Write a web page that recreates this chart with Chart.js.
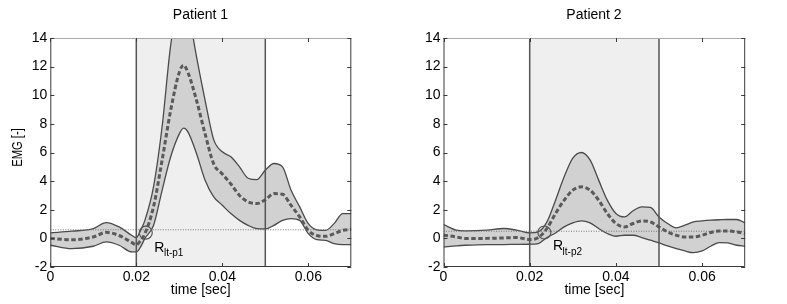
<!DOCTYPE html>
<html>
<head>
<meta charset="utf-8">
<script src="https://cdn.jsdelivr.net/npm/chart.js@4.4.1/dist/chart.umd.min.js"></script>
<style>
html,body{margin:0;padding:0;background:#fff;overflow:hidden;width:787px;height:304px;}
#w1{position:absolute;left:0;top:0;width:401px;height:304px;}
#w2{position:absolute;left:401px;top:0;width:386px;height:304px;}
</style>
</head>
<body>
<div id="w1"><canvas id="c1" width="401" height="304"></canvas></div>
<div id="w2"><canvas id="c2" width="386" height="304"></canvas></div>
<script>
// ---------- data ----------
const titles = ['Patient 1', 'Patient 2'];
const xTickValues = [0, 0.02, 0.04, 0.06];
const xTickLabels = ['0', '0.02', '0.04', '0.06'];
const yTickValues = [-2, 0, 2, 4, 6, 8, 10, 12, 14];
const yTickLabels = ['-2', '0', '2', '4', '6', '8', '10', '12', '14'];
const windowStart = 0.02;
const windowEnd = 0.05;

const timeP1  = [0, 0.005, 0.01, 0.013, 0.016, 0.019, 0.02, 0.021, 0.022, 0.024, 0.026, 0.028, 0.03, 0.031, 0.032, 0.034, 0.036, 0.038, 0.04, 0.042, 0.044, 0.046, 0.048, 0.05, 0.052, 0.054, 0.056, 0.058, 0.06, 0.062, 0.064, 0.066, 0.068, 0.07];
const upperP1 = [0.38, 0.5, 0.68, 1.1, 0.8, 0.2, 0.05, 0.56, 1.26, 3.6, 7.8, 13.5, 16.6, 17.0, 16.0, 12.7, 9.65, 6.9, 6.05, 5.7, 5.0, 4.2, 4.1, 4.76, 5.23, 5.0, 3.36, 2.2, 1.03, 0.6, 0.56, 1.03, 1.73, 1.73];
const meanP1  = [0, -0.1, 0.1, 0.42, 0.2, -0.3, -0.45, -0.15, 0.33, 2.2, 5.46, 8.96, 11.6, 12.1, 11.6, 9.65, 7.3, 5.2, 4.5, 3.8, 3.0, 2.55, 2.43, 2.7, 3.13, 3.08, 2.3, 1.5, 0.56, 0.2, 0.14, 0.33, 0.56, 0.63];
const lowerP1 = [-0.48, -0.72, -0.55, -0.25, -0.48, -0.95, -0.95, -0.6, 0, 0.9, 3.36, 5.7, 7.3, 7.7, 7.44, 5.93, 4.06, 2.9, 2.31, 1.73, 1.26, 0.91, 0.68, 0.66, 0.91, 1.26, 1.38, 1.26, 0.33, -0.09, -0.14, -0.37, -0.44, -0.44];
const thresholdP1 = 0.6;
const onsetP1 = {x: 0.0222, y: 0.4};

const timeP2  = [0, 0.003, 0.005, 0.01, 0.014, 0.017, 0.02, 0.022, 0.024, 0.026, 0.028, 0.03, 0.032, 0.034, 0.036, 0.038, 0.04, 0.042, 0.044, 0.046, 0.048, 0.05, 0.052, 0.054, 0.056, 0.058, 0.06, 0.062, 0.064, 0.066, 0.068, 0.07];
const upperP2 = [0.97, 0.57, 0.52, 0.57, 0.69, 0.57, 0.38, 0.45, 1.15, 2.67, 4.3, 5.6, 6.0, 5.48, 4.07, 2.67, 1.74, 1.5, 1.93, 2.2, 2.16, 1.5, 1.04, 0.73, 0.92, 1.15, 1.22, 1.27, 1.3, 1.32, 1.32, 1.08];
const meanP2  = [0.22, 0.1, -0.01, 0, 0.03, 0.06, -0.08, 0.06, 0.69, 1.74, 2.67, 3.37, 3.6, 3.37, 2.67, 1.74, 1.04, 0.8, 1.04, 1.22, 1.15, 0.8, 0.45, 0.22, 0.1, 0.1, 0.22, 0.41, 0.52, 0.52, 0.45, 0.34];
const lowerP2 = [-0.6, -0.52, -0.48, -0.43, -0.43, -0.42, -0.41, -0.36, 0.06, 0.38, 0.8, 1.08, 1.22, 1.08, 0.69, 0.34, 0.15, 0.22, 0.22, 0.06, -0.13, -0.32, -0.53, -0.71, -0.88, -1.0, -0.88, -0.55, -0.29, -0.32, -0.48, -0.55];
const thresholdP2 = 0.5;
const onsetP2 = {x: 0.0234, y: 0.41};

const onsetLabels = [{main: 'R', sub: 'lt-p1'}, {main: 'R', sub: 'lt-p2'}];

// ---------- styling / helpers ----------
const FONT = '"Liberation Sans", Arial, Helvetica, sans-serif';
Chart.defaults.font.family = FONT;
Chart.defaults.color = '#000';

const pts = (xs, ys) => xs.map((x, i) => ({x: x, y: ys[i]}));

const framePlugin = {
  id: 'frame',
  afterDatasetsDraw(chart, args, opts) {
    const ctx = chart.ctx;
    const a = chart.chartArea;
    const xs = chart.scales.x, ys = chart.scales.y;
    ctx.save();
    // onset label
    const ax = xs.getPixelForValue(opts.labelAt.x);
    const ay = ys.getPixelForValue(opts.labelAt.y);
    ctx.fillStyle = '#000';
    ctx.textBaseline = 'alphabetic';
    ctx.textAlign = 'left';
    ctx.font = '14px ' + FONT;
    ctx.fillText(opts.label.main, ax, ay);
    const w = ctx.measureText(opts.label.main).width;
    ctx.font = '10px ' + FONT;
    ctx.fillText(opts.label.sub, ax + w - 0.5, ay + 4.5);
    // frame
    ctx.lineWidth = 1;
    ctx.strokeStyle = '#a8a8a8';
    ctx.beginPath();
    ctx.moveTo(a.left, a.top + 0.5); ctx.lineTo(a.right, a.top + 0.5);
    ctx.stroke();
    ctx.strokeStyle = '#3a3a3a';
    ctx.beginPath();
    ctx.moveTo(a.left + 0.5, a.top); ctx.lineTo(a.left + 0.5, a.bottom - 0.5);
    ctx.lineTo(a.right - 0.5, a.bottom - 0.5); ctx.lineTo(a.right - 0.5, a.top);
    ctx.stroke();
    // inward ticks
    const TL = 4;
    ctx.beginPath();
    xs.ticks.forEach(t => {
      const px = Math.round(xs.getPixelForValue(t.value)) + 0.5;
      ctx.moveTo(px, a.bottom); ctx.lineTo(px, a.bottom - TL);
      ctx.moveTo(px, a.top); ctx.lineTo(px, a.top + TL);
    });
    ys.ticks.forEach(t => {
      const py = Math.round(ys.getPixelForValue(t.value)) + 0.5;
      ctx.moveTo(a.left, py); ctx.lineTo(a.left + TL, py);
      ctx.moveTo(a.right, py); ctx.lineTo(a.right - TL, py);
    });
    ctx.stroke();
    // rotated y title (only when requested)
    if (opts.yTitle) {
      ctx.translate(18, (a.top + a.bottom) / 2 - 5);
      ctx.rotate(-Math.PI / 2);
      ctx.scale(0.8, 1);
      ctx.font = '14px ' + FONT;
      ctx.textAlign = 'center';
      ctx.textBaseline = 'middle';
      ctx.fillStyle = '#000';
      ctx.fillText(opts.yTitle, 0, 0);
    }
    ctx.restore();
  }
};

function makeChart(canvasId, cfg) {
  const vline = x => ({
    data: [{x: x, y: -2}, {x: x, y: 14}],
    borderColor: '#555', borderWidth: 1.5, pointRadius: 0, fill: false, order: 1, clip: 0
  });
  return new Chart(document.getElementById(canvasId), {
    type: 'line',
    data: {
      datasets: [
        { // stimulation window shading
          data: [{x: windowStart, y: 14}, {x: windowEnd, y: 14}],
          borderWidth: 0, pointRadius: 0, fill: 'start', backgroundColor: '#efefef', order: 10, clip: 0
        },
        { // upper bound
          data: pts(cfg.time, cfg.upper),
          borderColor: '#4a4a4a', borderWidth: 1.3, pointRadius: 0,
          fill: '+1', backgroundColor: '#d1d1d1',
          cubicInterpolationMode: 'monotone', order: 5, clip: 0
        },
        { // lower bound
          data: pts(cfg.time, cfg.lower),
          borderColor: '#4a4a4a', borderWidth: 1.3, pointRadius: 0, fill: false,
          cubicInterpolationMode: 'monotone', order: 4, clip: 0
        },
        { // mean
          data: pts(cfg.time, cfg.mean),
          borderColor: '#5a5a5a', borderWidth: 3, borderDash: [4.5, 2.5], pointRadius: 0, fill: false,
          cubicInterpolationMode: 'monotone', order: 2, clip: 0
        },
        { // threshold
          data: [{x: 0, y: cfg.threshold}, {x: 0.07, y: cfg.threshold}],
          borderColor: '#777', borderWidth: 1, borderDash: [1, 1.5], pointRadius: 0, fill: false, order: 3, clip: 0
        },
        vline(windowStart),
        vline(windowEnd),
        { // onset circle
          data: [cfg.onset],
          showLine: false, pointRadius: 6.5, pointBackgroundColor: 'rgba(0,0,0,0)',
          pointBorderColor: '#555', pointBorderWidth: 1.2, fill: false, order: 0, clip: false
        }
      ]
    },
    options: {
      responsive: false,
      animation: false,
      events: [],
      layout: {padding: 0},
      plugins: {
        legend: {display: false},
        tooltip: {enabled: false},
        title: {
          display: true, text: cfg.title, color: '#000',
          font: {size: 14, weight: 'normal'}, padding: {top: 7, bottom: 14.2}
        },
        frame: {labelAt: cfg.labelAt, label: cfg.label, yTitle: cfg.yTitle}
      },
      scales: {
        x: {
          type: 'linear', position: 'bottom', min: 0, max: 0.07,
          grid: {display: false, drawTicks: false, tickLength: 0}, border: {display: false},
          afterBuildTicks: s => { s.ticks = xTickValues.map(v => ({value: v})); },
          ticks: {
            autoSkip: false, maxRotation: 0, padding: 2, color: '#000', font: {size: 14},
            callback: v => xTickLabels[xTickValues.indexOf(v)]
          },
          title: {display: true, text: 'time [sec]', color: '#000', font: {size: 14}, padding: {top: 0, bottom: 5}},
          afterFit: s => { s.height = 37; }
        },
        y: {
          type: 'linear', position: 'left', min: -2, max: 14,
          grid: {display: false, drawTicks: false, tickLength: 0}, border: {display: false},
          afterBuildTicks: s => { s.ticks = yTickValues.map(v => ({value: v})); },
          ticks: {
            autoSkip: false, padding: 3, color: '#000', font: {size: 14},
            callback: v => yTickLabels[yTickValues.indexOf(v)]
          },
          afterFit: s => { s.width = cfg.leftW; }
        },
        y2: {
          type: 'linear', axis: 'y', position: 'right', min: -2, max: 14, display: true,
          grid: {display: false, drawTicks: false}, border: {display: false}, ticks: {display: false},
          afterFit: s => { s.width = cfg.rightW; }
        }
      }
    },
    plugins: [framePlugin]
  });
}

makeChart('c1', {
  title: titles[0], time: timeP1, upper: upperP1, mean: meanP1, lower: lowerP1,
  threshold: thresholdP1, onset: onsetP1, labelAt: {x: 0.0242, y: -0.95}, label: onsetLabels[0],
  yTitle: 'EMG [-]', leftW: 50.3, rightW: 49.7
});
makeChart('c2', {
  title: titles[1], time: timeP2, upper: upperP2, mean: meanP2, lower: lowerP2,
  threshold: thresholdP2, onset: onsetP2, labelAt: {x: 0.0254, y: -0.83}, label: onsetLabels[1],
  yTitle: null, leftW: 42.5, rightW: 41.8
});
</script>
</body>
</html>
